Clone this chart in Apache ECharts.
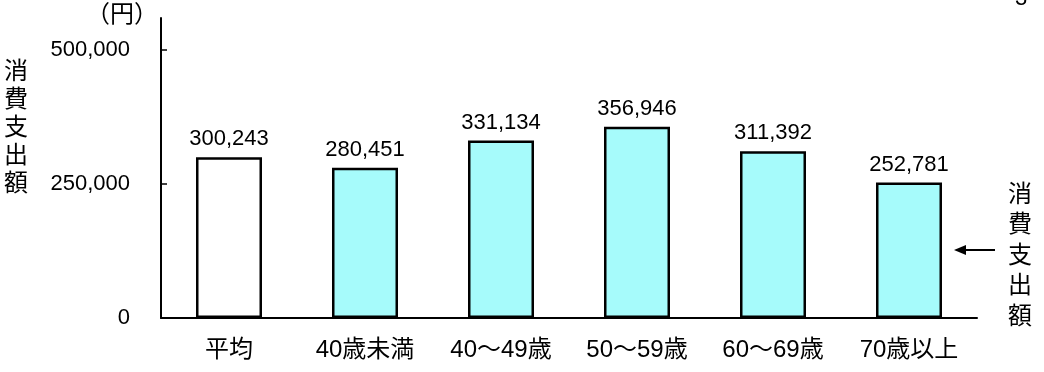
<!DOCTYPE html>
<html><head><meta charset="utf-8">
<script src="https://cdn.jsdelivr.net/npm/echarts@6/dist/echarts.min.js"></script>
<style>html,body{margin:0;padding:0;background:#fff}#c{width:1044px;height:372px}</style>
</head><body><div id="c"></div>
<script>
const categories = ['平均', '40歳未満', '40～49歳', '50～59歳', '60～69歳', '70歳以上'];
const values = [300243, 280451, 331134, 356946, 311392, 252781];
const fillColors = ['#ffffff', '#a6fbfb', '#a6fbfb', '#a6fbfb', '#a6fbfb', '#a6fbfb'];
const yTicks = [0, 250000, 500000];
const yUnit = '（円）';
const yTitle = '消費支出額';
const sideNote = '消費支出額';
const pageMark = '3';

const FONT = '"Liberation Sans", "Noto Sans CJK JP", sans-serif';
const chart = echarts.init(document.getElementById('c'), null, {renderer: 'canvas'});
chart.setOption({
  animation: false,
  backgroundColor: '#ffffff',
  grid: {left: 161, right: 67, top: 18, bottom: 54, containLabel: false},
  xAxis: {
    type: 'category', data: categories,
    axisLine: {lineStyle: {color: '#000', width: 2}},
    axisTick: {show: false},
    axisLabel: {color: '#000', fontSize: 24, fontFamily: FONT, margin: 20}
  },
  yAxis: {
    type: 'value', min: 0, max: 560000,
    splitLine: {show: false},
    axisLine: {show: true, lineStyle: {color: '#000', width: 2}},
    axisTick: {show: true, inside: true, length: 6, lineStyle: {color: '#000', width: 1.5}, customValues: yTicks},
    axisLabel: {color: '#000', fontSize: 22, fontFamily: FONT, margin: 31, customValues: yTicks,
      formatter: v => v.toLocaleString('en-US')}
  },
  series: [{
    type: 'bar', barWidth: 66,
    data: values.map((v, i) => ({value: v, itemStyle: {color: fillColors[i]}})),
    itemStyle: {borderColor: '#000', borderWidth: 2.5},
    label: {show: true, position: 'top', distance: 7, color: '#000', fontSize: 22, fontFamily: FONT,
      formatter: p => p.value.toLocaleString('en-US')}
  }],
  graphic: [
    {type: 'text', left: 86, top: 3, style: {text: yUnit, fontSize: 24, fontFamily: FONT, fill: '#000'}},
    {type: 'text', x: 16, y: 58, style: {text: yTitle.split('').join('\n'), fontSize: 24, lineHeight: 28,
      fontFamily: FONT, fill: '#000', align: 'center'}},
    {type: 'text', x: 1020, y: 180, style: {text: sideNote.split('').join('\n'), fontSize: 24, lineHeight: 30.5,
      fontFamily: FONT, fill: '#000', align: 'center'}},
    {type: 'line', shape: {x1: 962, y1: 250, x2: 995, y2: 250}, style: {stroke: '#000', lineWidth: 2}},
    {type: 'polygon', shape: {points: [[954, 250], [966, 245], [966, 255]]}, style: {fill: '#000'}},
    {type: 'text', x: 1021, y: -12, style: {text: pageMark, fontSize: 22, fontFamily: FONT, fill: '#000', align: 'center'}}
  ]
});
</script></body></html>
